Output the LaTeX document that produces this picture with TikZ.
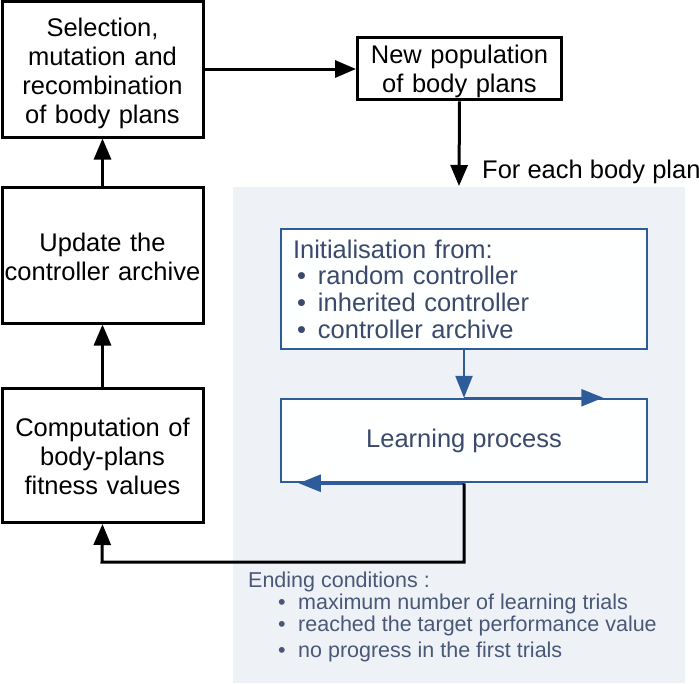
\documentclass[tikz,border=0pt]{standalone}
\usepackage{fontspec}
\setmainfont{Liberation Sans}
\usepackage{tikz}
\usetikzlibrary{shapes,arrows,arrows.meta,positioning,calc}
\definecolor{panelbg}{HTML}{EEF2F7}
\definecolor{boxblue}{HTML}{2E5B9A}
\definecolor{textblue}{HTML}{3B4A6C}
\definecolor{endtext}{HTML}{4A5877}
\tikzset{
    block/.style={rectangle, draw=black, line width=3pt, fill=white, text width=197pt, align=center, inner sep=2pt, font=\fontsize{25.5}{29}\selectfont},
    bblock/.style={rectangle, draw=boxblue, line width=2.5pt, fill=white!97!panelbg, minimum width=366pt, text=textblue, font=\fontsize{25.5}{26.7}\selectfont},
    line/.style={draw, line width=3pt, -{Triangle[length=21pt,width=17pt]}},
    bline/.style={draw=boxblue, line width=2.5pt, -{Triangle[length=22pt,width=17pt]}}
}
\newcommand{\topgap}[1]{\rule{0pt}{\dimexpr18.6pt+#1\relax}}
\newcommand{\ibul}{\hspace*{4pt}\makebox[21pt][l]{\textbullet}}
\newcommand{\ebul}{\hspace*{30pt}\makebox[20pt][l]{\textbullet}}
\begin{document}
\begin{tikzpicture}[x=1pt,y=-1pt]
    \useasboundingbox (0,0) rectangle (699,683);

    % Background of the learning loop
    \fill[panelbg] (233,187) rectangle (685,683);

    % Evolution steps
    \node[block, minimum height=136pt] at (102.5,69) (sel) {\topgap{8pt}Selection,\\ mutation and\\ recombination\\ of body plans};
    \node[block, minimum height=136pt] at (102.5,255) (upd) {\topgap{4pt}Update the\\ controller archive};
    \node[block, minimum height=134pt] at (102.5,455.5) (comp) {\topgap{2pt}Computation of\\ body-plans\\ fitness values};
    \node[block, text width=200pt, minimum height=61pt] at (459.5,68.5) (newpop) {\topgap{6pt}New population\\ of body plans};

    % Learning loop
    \node[anchor=west, inner sep=0pt, font=\fontsize{25.5}{29}\selectfont] at (482,172) (foreach) {For each body plan};
    \node[bblock, text width=342pt, inner xsep=12pt, inner ysep=0pt, align=left, minimum height=120pt] at (464,289) (init) {
        Initialisation from:\\
        \ibul random controller\\
        \ibul inherited controller\\
        \ibul controller archive
    };
    \node[bblock, minimum height=83pt] at (464,440.5) (learn) {Learning process};
    \coordinate (ptop) at (459,186);
    \coordinate (ret) at (102,562);

    % Connections
    \draw[line] (sel.east |- 0,69) -- (newpop.west |- 0,69);
    \draw[line] (newpop.south) -- (ptop);
    \draw[bline] (init.south) -- (learn.north);
    \draw[bline] (learn.north) -- ([xshift=-45pt]learn.north east);
    \draw[bline] (learn.south) -- ([xshift=19pt]learn.south west);
    \draw[line] (learn.south) |- (ret) -- (comp.south);
    \draw[line] (comp.north) -- (upd.south);
    \draw[line] (upd.north) -- (sel.south);

    % Ending conditions
    \node[anchor=north west, inner sep=0pt, align=left, text=endtext, font=\fontsize{21.5}{22}\selectfont] at (248,572) (ending) {
        Ending conditions :\\
        \ebul maximum number of learning trials\\
        \ebul reached the target performance value\\[4pt]
        \ebul no progress in the first trials
    };
\end{tikzpicture}
\end{document}
